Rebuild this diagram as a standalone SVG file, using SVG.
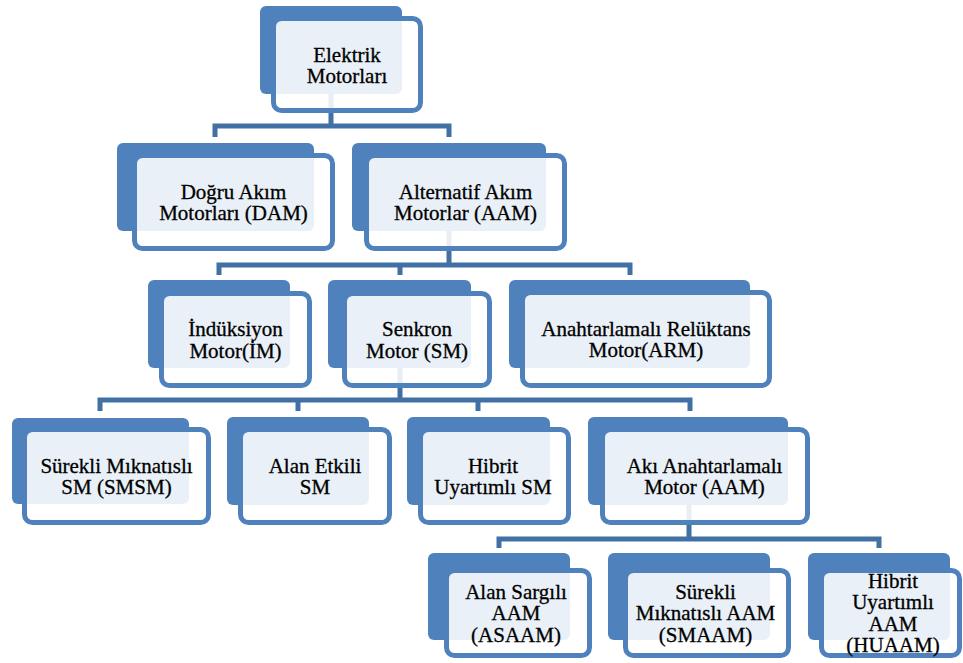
<svg xmlns="http://www.w3.org/2000/svg" width="963" height="663" viewBox="0 0 963 663">
<style>
.back{fill:#4F81BD}
.front{fill:#FFFFFF;fill-opacity:0.88;stroke:#4F81BD;stroke-width:5}
.conn{fill:none;stroke:#4170A4;stroke-width:5;stroke-linejoin:miter}
.t{fill:#000;stroke:#000;stroke-width:0.3;text-anchor:middle}
</style>
<rect width="963" height="663" fill="#FFFFFF"/>
<g id="connectors">
<path class="conn" d="M331 50 V126 M215 137 V126 H449 V137"/>
<path class="conn" d="M449 187 V265 M219 275 V265 H630 V275 M400 265 V275"/>
<path class="conn" d="M400 324 V400 M100 411 V400 H690 V411 M298 400 V411 M478 400 V411"/>
<path class="conn" d="M689 461 V539 M499 548 V539 H879 V548"/>
</g>
<g id="nodes" font-family="'Liberation Serif', serif" font-size="21">
<g id="n1">
<rect class="back" x="260" y="6" width="142" height="88" rx="6"/>
<rect class="front" x="273.5" y="18.5" width="147" height="92" rx="8"/>
<text class="t" x="347" y="61.5">Elektrik<tspan x="347" dy="21.5">Motorları</tspan></text>
</g>
<g id="n2">
<rect class="back" x="117" y="143" width="197" height="88" rx="6"/>
<rect class="front" x="134.5" y="155.5" width="198" height="93" rx="8"/>
<text class="t" x="233.5" y="198.75">Doğru Akım<tspan x="233.5" dy="21.5">Motorları (DAM)</tspan></text>
</g>
<g id="n3">
<rect class="back" x="352" y="143" width="194" height="88" rx="6"/>
<rect class="front" x="366.5" y="155.5" width="198" height="93" rx="8"/>
<text class="t" x="465.5" y="198.75">Alternatif Akım<tspan x="465.5" dy="21.5">Motorlar (AAM)</tspan></text>
</g>
<g id="n4">
<rect class="back" x="148" y="280" width="142" height="88" rx="6"/>
<rect class="front" x="161.5" y="293.5" width="148" height="92" rx="8"/>
<text class="t" x="235.5" y="336.25">İndüksiyon<tspan x="235.5" dy="21.5">Motor(İM)</tspan></text>
</g>
<g id="n5">
<rect class="back" x="328" y="280" width="143" height="88" rx="6"/>
<rect class="front" x="344.5" y="293.5" width="145" height="92" rx="8"/>
<text class="t" x="417" y="336.25">Senkron<tspan x="417" dy="21.5">Motor (SM)</tspan></text>
</g>
<g id="n6">
<rect class="back" x="509" y="280" width="241" height="88" rx="6"/>
<rect class="front" x="522.5" y="292.5" width="247" height="93" rx="8"/>
<text class="t" x="646" y="335.75">Anahtarlamalı Relüktans<tspan x="646" dy="21.5">Motor(ARM)</tspan></text>
</g>
<g id="n7">
<rect class="back" x="12" y="418" width="177" height="86" rx="6"/>
<rect class="front" x="24.5" y="429.5" width="184" height="93" rx="8"/>
<text class="t" x="116.5" y="472.75">Sürekli Mıknatıslı<tspan x="116.5" dy="21.5">SM (SMSM)</tspan></text>
</g>
<g id="n8">
<rect class="back" x="227" y="417" width="142" height="88" rx="6"/>
<rect class="front" x="240.5" y="429.5" width="149" height="93" rx="8"/>
<text class="t" x="315" y="472.75">Alan Etkili<tspan x="315" dy="21.5">SM</tspan></text>
</g>
<g id="n9">
<rect class="back" x="407" y="417" width="143" height="88" rx="6"/>
<rect class="front" x="420.5" y="429.5" width="148" height="93" rx="8"/>
<text class="t" x="493" y="472.75">Hibrit<tspan x="493" dy="21.5">Uyartımlı SM</tspan></text>
</g>
<g id="n10">
<rect class="back" x="588" y="417" width="200" height="88" rx="6"/>
<rect class="front" x="602.5" y="429.5" width="205" height="93" rx="8"/>
<text class="t" x="704.5" y="472.75">Akı Anahtarlamalı<tspan x="704.5" dy="21.5">Motor (AAM)</tspan></text>
</g>
<g id="n11">
<rect class="back" x="428" y="553" width="142" height="87" rx="6"/>
<rect class="front" x="446.5" y="570.5" width="143" height="85" rx="8"/>
<text class="t" x="516" y="598.5">Alan Sargılı<tspan x="516" dy="21.5">AAM</tspan><tspan x="516" dy="21.5">(ASAAM)</tspan></text>
</g>
<g id="n12">
<rect class="back" x="608" y="553" width="162" height="87" rx="6"/>
<rect class="front" x="625.5" y="570.5" width="163" height="85" rx="8"/>
<text class="t" x="705.5" y="598.5">Sürekli<tspan x="705.5" dy="21.5">Mıknatıslı AAM</tspan><tspan x="705.5" dy="21.5">(SMAAM)</tspan></text>
</g>
<g id="n13">
<rect class="back" x="808" y="553" width="142" height="87" rx="6"/>
<rect class="front" x="821.5" y="570.5" width="138" height="85" rx="8"/>
<text class="t" x="893" y="587.75">Hibrit<tspan x="893" dy="21.5">Uyartımlı</tspan><tspan x="893" dy="21.5">AAM</tspan><tspan x="893" dy="21.5">(HUAAM)</tspan></text>
</g>
</g>
</svg>
